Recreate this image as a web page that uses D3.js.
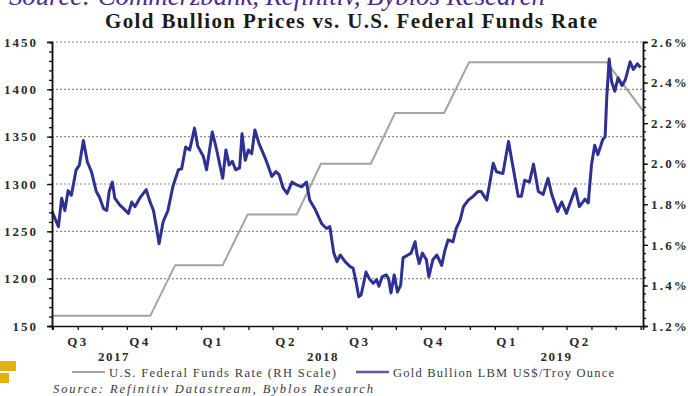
<!DOCTYPE html>
<html>
<head>
<meta charset="utf-8">
<script src="https://cdn.jsdelivr.net/npm/d3@7"></script>
<style>
  body { margin: 0; background: #fff; }
  svg text { font-family: "Liberation Serif", "DejaVu Serif", serif; }
</style>
</head>
<body>
<svg id="chart" width="688" height="396"></svg>
<script>
// gold, LBM US$/troy ounce
const goldDates = ["2017-07-31","2017-08-08","2017-08-12","2017-08-16","2017-08-20","2017-08-24","2017-08-30","2017-09-03","2017-09-08","2017-09-13","2017-09-18","2017-09-22","2017-09-24","2017-09-28","2017-10-03","2017-10-07","2017-10-10","2017-10-14","2017-10-17","2017-10-23","2017-10-28","2017-11-03","2017-11-07","2017-11-11","2017-11-17","2017-11-25","2017-11-29","2017-12-04","2017-12-08","2017-12-11","2017-12-16","2017-12-22","2017-12-28","2018-01-04","2018-01-08","2018-01-13","2018-01-18","2018-01-24","2018-01-28","2018-02-04","2018-02-08","2018-02-15","2018-02-20","2018-02-25","2018-02-28","2018-03-04","2018-03-08","2018-03-12","2018-03-16","2018-03-21","2018-03-24","2018-03-28","2018-04-01","2018-04-05","2018-04-09","2018-04-14","2018-04-21","2018-04-25","2018-04-30","2018-05-05","2018-05-09","2018-05-14","2018-05-19","2018-05-25","2018-05-31","2018-06-06","2018-06-12","2018-06-16","2018-06-23","2018-07-01","2018-07-07","2018-07-11","2018-07-16","2018-07-20","2018-07-24","2018-07-30","2018-08-05","2018-08-09","2018-08-13","2018-08-16","2018-08-19","2018-08-25","2018-08-29","2018-09-03","2018-09-07","2018-09-10","2018-09-14","2018-09-19","2018-09-22","2018-09-25","2018-09-29","2018-10-03","2018-10-07","2018-10-10","2018-10-16","2018-10-20","2018-10-25","2018-10-27","2018-10-30","2018-11-03","2018-11-08","2018-11-11","2018-11-16","2018-11-21","2018-11-27","2018-12-01","2018-12-05","2018-12-11","2018-12-15","2018-12-20","2018-12-24","2018-12-30","2019-01-05","2019-01-11","2019-01-15","2019-01-22","2019-01-30","2019-02-03","2019-02-11","2019-02-18","2019-02-21","2019-03-02","2019-03-06","2019-03-10","2019-03-16","2019-03-21","2019-03-27","2019-04-02","2019-04-08","2019-04-13","2019-04-20","2019-04-25","2019-05-01","2019-05-06","2019-05-12","2019-05-17","2019-05-24","2019-05-28","2019-06-01","2019-06-05","2019-06-09","2019-06-15","2019-06-18","2019-06-20","2019-06-23","2019-06-26","2019-06-30","2019-07-04","2019-07-09","2019-07-13","2019-07-19","2019-07-23","2019-07-28","2019-08-01"];
const goldPrices = [1271,1255,1285,1272,1293,1288,1315,1320,1346,1323,1313,1299,1292,1286,1274,1272,1292,1302,1285,1278,1274,1269,1281,1276,1285,1294,1283,1272,1253,1237,1260,1272,1297,1315,1316,1339,1336,1359,1340,1329,1315,1355,1338,1318,1306,1336,1320,1324,1315,1317,1353,1325,1336,1332,1357,1343,1329,1320,1308,1313,1310,1296,1290,1302,1299,1297,1302,1283,1273,1258,1253,1255,1227,1218,1225,1218,1213,1211,1195,1181,1183,1207,1200,1195,1199,1192,1202,1204,1200,1185,1204,1186,1193,1222,1225,1227,1239,1227,1216,1227,1220,1202,1220,1225,1214,1230,1241,1239,1253,1262,1276,1283,1287,1292,1292,1283,1322,1313,1311,1345,1330,1287,1287,1304,1302,1321,1292,1289,1306,1288,1271,1281,1269,1281,1295,1276,1284,1280,1320,1341,1331,1347,1350,1392,1432,1408,1398,1412,1404,1410,1429,1421,1427,1423];

// fed funds rate, month end, %
const fedDates = ["2017-07-31","2017-08-31","2017-09-30","2017-10-31","2017-11-30","2017-12-31","2018-01-31","2018-02-28","2018-03-31","2018-04-30","2018-05-31","2018-06-30","2018-07-31","2018-08-31","2018-09-30","2018-10-31","2018-11-30","2018-12-31","2019-01-31","2019-02-28","2019-03-31","2019-04-30","2019-05-31","2019-06-20","2019-08-04"];
const fedRates = [1.25,1.25,1.25,1.25,1.25,1.5,1.5,1.5,1.75,1.75,1.75,2.0,2.0,2.0,2.25,2.25,2.25,2.5,2.5,2.5,2.5,2.5,2.5,2.5,2.26];

const leftTicks = [1150,1200,1250,1300,1350,1400,1450];
const leftTickLabels = ["150","1200","1250","1300","1350","1400","1450"];
const rightTicks = [1.2,1.4,1.6,1.8,2.0,2.2,2.4,2.6];
const quarterLabels = [
  {label: "Q3", start: "2017-07-01", end: "2017-10-01"},
  {label: "Q4", start: "2017-10-01", end: "2018-01-01"},
  {label: "Q1", start: "2018-01-01", end: "2018-04-01"},
  {label: "Q2", start: "2018-04-01", end: "2018-07-01"},
  {label: "Q3", start: "2018-07-01", end: "2018-10-01"},
  {label: "Q4", start: "2018-10-01", end: "2019-01-01"},
  {label: "Q1", start: "2019-01-01", end: "2019-04-01"},
  {label: "Q2", start: "2019-04-01", end: "2019-07-01"}
];
const yearLabels = [
  {label: "2017", start: "2017-01-01", end: "2018-01-01"},
  {label: "2018", start: "2018-01-01", end: "2019-01-01"},
  {label: "2019", start: "2019-01-01", end: "2020-01-01"}
];
const xStart = "2017-07-31", xEnd = "2019-08-04";

const parse = d3.timeParse("%Y-%m-%d");
const gold = goldDates.map((d, i) => ({date: parse(d), v: goldPrices[i]}));
const fed = fedDates.map((d, i) => ({date: parse(d), v: fedRates[i]}));

const margin = {top: 42, right: 45, bottom: 70, left: 52};
const W = 688, H = 396;
const width = W - margin.left - margin.right;
const height = H - margin.top - margin.bottom;

const svg = d3.select("#chart");

// top caption, cut off by the crop as in the original
svg.append("text")
  .attr("x", 9).attr("y", 5)
  .attr("font-size", 27).attr("font-style", "italic")
  .attr("fill", "#4f2a8e")
  .attr("textLength", 536).attr("lengthAdjust", "spacing")
  .text("Source: Commerzbank, Refinitiv, Byblos Research");

svg.append("text")
  .attr("x", 105).attr("y", 28)
  .attr("font-size", 21).attr("font-weight", "bold")
  .attr("textLength", 492).attr("lengthAdjust", "spacing")
  .attr("fill", "#1a1a1a")
  .text("Gold Bullion Prices vs. U.S. Federal Funds Rate");

const g = svg.append("g").attr("transform", `translate(${margin.left},${margin.top})`);

const x = d3.scaleTime().domain([parse(xStart), parse(xEnd)]).range([0, width]);
const yL = d3.scaleLinear().domain([1150, 1450]).range([height, 0]);
const yR = d3.scaleLinear().domain([1.2, 2.6]).range([height, 0]);

// dotted grid
g.selectAll(".grid").data(leftTicks.slice(1)).join("line")
  .attr("x1", 0).attr("x2", width)
  .attr("y1", d => yL(d)).attr("y2", d => yL(d))
  .attr("stroke", "#8a8a8a").attr("stroke-width", 1.2)
  .attr("stroke-dasharray", "2,2");

// series
g.append("path").datum(fed)
  .attr("fill", "none").attr("stroke", "#a3a3a3").attr("stroke-width", 2)
  .attr("d", d3.line().x(d => x(d.date)).y(d => yR(d.v)));

g.append("path").datum(gold)
  .attr("fill", "none").attr("stroke", "#2e3192").attr("stroke-width", 3)
  .attr("stroke-linejoin", "round")
  .attr("d", d3.line().x(d => x(d.date)).y(d => yL(d.v)));

// axes
const styleAxis = (a, sp) => {
  a.select(".domain").attr("stroke", "#111").attr("stroke-width", 1.5);
  a.selectAll(".tick line").attr("stroke", "#111").attr("stroke-width", 1.3);
  a.selectAll("text").attr("font-family", "Liberation Serif, serif")
    .attr("font-weight", "bold").attr("font-size", 13).attr("fill", "#2a2a2a")
    .attr("letter-spacing", sp || 1.2);
};

g.append("g")
  .call(d3.axisLeft(yL).tickValues(d3.range(1150, 1451, 10)).tickSize(3).tickFormat(""))
  .call(styleAxis);
g.append("g")
  .call(d3.axisLeft(yL).tickValues(leftTicks).tickSize(5).tickPadding(9)
    .tickFormat((d, i) => leftTickLabels[i]))
  .call(styleAxis, 2);

g.append("g").attr("transform", `translate(${width},0)`)
  .call(d3.axisRight(yR).tickValues(d3.range(1.2, 2.601, 0.04)).tickSize(3).tickFormat(""))
  .call(styleAxis);
g.append("g").attr("transform", `translate(${width},0)`)
  .call(d3.axisRight(yR).tickValues(rightTicks).tickSize(5).tickPadding(3)
    .tickFormat(d => d.toFixed(1) + "%"))
  .call(styleAxis, 2.2);

g.append("g").attr("transform", `translate(0,${height})`)
  .call(d3.axisBottom(x).ticks(d3.timeMonth.every(1)).tickSize(4).tickFormat(""))
  .call(styleAxis);

// quarter and year labels centred on the visible part of each period
const mid = p => {
  const a = d3.max([parse(p.start), x.domain()[0]]);
  const b = d3.min([parse(p.end), x.domain()[1]]);
  return (x(a) + x(b)) / 2;
};
g.selectAll(".q").data(quarterLabels).join("text")
  .attr("x", d => mid(d) + 1).attr("y", height + 20)
  .attr("text-anchor", "middle")
  .attr("font-size", 13).attr("font-weight", "bold").attr("letter-spacing", 2.5)
  .attr("fill", "#2a2a2a")
  .text(d => d.label);
g.selectAll(".yr").data(yearLabels).join("text")
  .attr("x", d => mid(d)).attr("y", height + 35)
  .attr("text-anchor", "middle")
  .attr("font-size", 13).attr("font-weight", "bold").attr("letter-spacing", 1.5)
  .attr("fill", "#2a2a2a")
  .text(d => d.label);

// legend
const legend = [
  {label: "U.S. Federal Funds Rate (RH Scale)", color: "#a3a3a3", w: 2, x: 72, len: 227},
  {label: "Gold Bullion LBM US$/Troy Ounce", color: "#5a5aa8", w: 2.5, x: 356, len: 221}
];
const lg = svg.selectAll(".lg").data(legend).join("g")
  .attr("transform", d => `translate(${d.x},372)`);
lg.append("line").attr("x1", 0).attr("x2", 33)
  .attr("stroke", d => d.color).attr("stroke-width", d => d.w);
lg.append("text").attr("x", 37).attr("y", 4.5)
  .attr("font-size", 12.5).attr("fill", "#3a3a3a")
  .attr("textLength", d => d.len).attr("lengthAdjust", "spacing")
  .text(d => d.label);

svg.append("text")
  .attr("x", 53).attr("y", 393)
  .attr("font-size", 12.5).attr("font-style", "italic")
  .attr("textLength", 320).attr("lengthAdjust", "spacing")
  .attr("fill", "#3a3a3a")
  .text("Source: Refinitiv Datastream, Byblos Research");

// yellow corner marks
svg.append("rect").attr("x", 0).attr("y", 361).attr("width", 16).attr("height", 10).attr("fill", "#e2b20c");
svg.append("rect").attr("x", 0).attr("y", 373).attr("width", 9).attr("height", 10).attr("fill", "#e2b20c");
</script>
</body>
</html>
